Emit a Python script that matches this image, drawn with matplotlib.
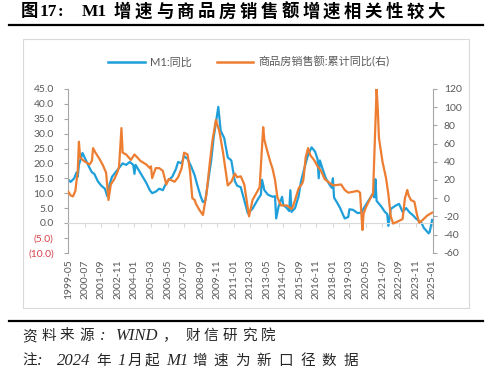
import numpy as np
import pandas as pd
import matplotlib
matplotlib.use('Agg')
import matplotlib.pyplot as plt
from matplotlib.lines import Line2D
from matplotlib.patches import Rectangle

plt.rcParams['font.family'] = ['Lato', 'Noto Sans CJK SC']
plt.rcParams['axes.unicode_minus'] = False

# monthly category axis, 1999-05 .. 2025-01
months = pd.period_range('1999-05', '2025-01', freq='M')
tick_step = 14

# M1 yoy (%), left axis
m1_dates = ['1999-05', '1999-07', '1999-10', '1999-12', '2000-01', '2000-02', '2000-05', '2000-08',
            '2000-11', '2001-01', '2001-03', '2001-06', '2001-09', '2001-12', '2002-02', '2002-04',
            '2002-06', '2002-09', '2002-12', '2003-03', '2003-06', '2003-09', '2003-12', '2004-01',
            '2004-02', '2004-05', '2004-08', '2004-11', '2005-02', '2005-04', '2005-07', '2005-10',
            '2006-01', '2006-04', '2006-06', '2006-09', '2006-12', '2007-02', '2007-05', '2007-07',
            '2007-10', '2008-01', '2008-04', '2008-06', '2008-09', '2008-11', '2009-01', '2009-03',
            '2009-06', '2009-08', '2009-12', '2010-02', '2010-05', '2010-08', '2010-11', '2011-02',
            '2011-04', '2011-07', '2011-10', '2012-01', '2012-05', '2012-09', '2012-12', '2013-01',
            '2013-03', '2013-06', '2013-10', '2013-12', '2014-01', '2014-03', '2014-06', '2014-07',
            '2014-10', '2014-12', '2015-01', '2015-02', '2015-05', '2015-08', '2015-10', '2016-01',
            '2016-04', '2016-07', '2016-10', '2016-12', '2017-01', '2017-02', '2017-04', '2017-07',
            '2017-10', '2017-12', '2018-01', '2018-02', '2018-04', '2018-07', '2018-11', '2019-02',
            '2019-03', '2019-06', '2019-10', '2020-01', '2020-04', '2020-08', '2020-11', '2020-12',
            '2021-01', '2021-02', '2021-06', '2021-09', '2021-11', '2021-12', '2022-02', '2022-06',
            '2022-09', '2022-12', '2023-03', '2023-06', '2023-09', '2023-11', '2024-04', '2024-06',
            '2024-09', '2024-10', '2024-11', '2024-12', '2025-01']
m1_vals = [14.5, 13.8, 15.0, 17.0, 15.5, 19.5, 23.5, 21.0,
           18.5, 17.0, 16.5, 14.0, 12.5, 11.5, 9.0, 13.0,
           15.5, 17.0, 18.5, 20.0, 19.5, 20.5, 19.5, 16.5,
           19.5, 17.5, 15.5, 13.5, 11.0, 10.0, 10.5, 11.5,
           11.0, 13.5, 14.5, 15.5, 18.0, 20.5, 20.0, 22.5,
           21.5, 19.0, 16.0, 13.0, 9.0, 7.0, 7.5, 13.0,
           21.0, 28.5, 39.0, 31.0, 28.5, 22.0, 21.0, 14.0,
           12.5, 12.0, 7.6, 3.2, 4.8, 7.6, 9.5, 14.5,
           11.0, 9.5, 8.8, 9.0, 1.5, 5.5, 8.8, 6.0,
           5.0, 4.0, 11.0, 3.7, 5.0, 9.0, 14.0, 18.6,
           22.9, 25.4, 23.9, 21.4, 15.0, 21.0, 18.5, 15.0,
           13.0, 11.8, 15.0, 8.5, 7.2, 5.1, 1.5, 2.0,
           4.6, 4.4, 3.3, 3.5, 5.5, 8.0, 10.0, 8.6,
           14.7, 7.4, 5.5, 3.7, 3.0, -1.0, 4.7, 5.8,
           6.4, 3.7, 5.0, 3.5, 2.5, 1.6, 0.0, -1.7,
           -3.0, -3.5, -3.0, -1.0, 1.0]

# commodity housing sales, cumulative yoy (%), right axis
sales_dates = ['1999-05', '1999-07', '1999-09', '1999-11', '2000-01', '2000-02', '2000-03', '2000-06',
               '2000-11', '2001-01', '2001-02', '2001-04', '2001-07', '2001-10', '2002-01', '2002-03',
               '2002-05', '2002-08', '2002-11', '2002-12', '2003-02', '2003-03', '2003-06', '2003-10',
               '2004-01', '2004-04', '2004-06', '2004-11', '2005-02', '2005-03', '2005-04', '2005-07',
               '2005-10', '2006-01', '2006-04', '2006-06', '2006-11', '2007-02', '2007-05', '2007-07',
               '2007-10', '2007-12', '2008-02', '2008-04', '2008-05', '2008-08', '2008-11', '2009-02',
               '2009-05', '2009-07', '2009-10', '2010-01', '2010-04', '2010-07', '2010-08', '2010-11',
               '2011-02', '2011-04', '2011-07', '2011-10', '2012-02', '2012-05', '2012-08', '2012-11',
               '2013-02', '2013-03', '2013-05', '2013-08', '2013-10', '2013-12', '2014-02', '2014-05',
               '2014-10', '2015-02', '2015-03', '2015-05', '2015-08', '2015-11', '2015-12', '2016-02',
               '2016-04', '2016-06', '2016-09', '2016-12', '2017-03', '2017-06', '2017-09', '2018-01',
               '2018-08', '2018-11', '2019-02', '2019-10', '2019-12', '2020-02', '2020-03', '2020-05',
               '2020-08', '2020-11', '2021-02', '2021-03', '2021-04', '2021-07', '2021-10', '2021-12',
               '2022-02', '2022-04', '2022-09', '2022-12', '2023-02', '2023-04', '2023-05', '2023-07',
               '2023-10', '2023-12', '2024-02', '2024-05', '2024-09', '2025-01']
sales_vals = [7.0, 3.0, 2.0, 8.0, 30.0, 62.0, 45.0, 41.0,
              37.0, 41.0, 55.0, 50.0, 44.0, 37.0, 28.0, -2.0,
              15.0, 21.0, 30.0, 35.0, 77.0, 50.0, 48.0, 42.0,
              48.0, 44.0, 41.0, 37.0, 33.0, 35.0, 22.0, 33.0,
              33.0, 30.0, 15.0, 21.0, 18.0, 23.0, 33.0, 50.0,
              48.0, 30.0, 0.0, -2.0, -6.0, -13.0, -18.5, 5.0,
              41.0, 63.0, 86.0, 73.0, 50.0, 23.0, 14.0, 18.0,
              27.0, 23.0, 24.0, 15.0, -20.0, -2.0, 5.0, 12.0,
              78.0, 64.0, 54.0, 40.0, 32.0, 20.0, 1.0, -8.0,
              -8.0, -12.0, -9.6, -2.0, 10.8, 16.0, 20.0, 45.0,
              55.0, 47.0, 42.0, 35.0, 30.0, 21.0, 18.0, 14.0,
              15.0, 9.0, 6.0, 8.0, 6.0, -35.0, -17.0, -10.0,
              -2.0, 5.0, 120.0, 98.0, 66.0, 40.0, 22.0, 4.0,
              -20.0, -28.0, -25.0, -23.0, 0.0, 9.0, 3.4, -2.0,
              -4.0, -17.0, -27.0, -24.0, -19.0, -16.0]

left_ticks = [-10, -5, 0, 5, 10, 15, 20, 25, 30, 35, 40, 45]
right_ticks = [-60, -40, -20, 0, 20, 40, 60, 80, 100, 120]


def pos(dates):
    return [(pd.Period(d, 'M') - months[0]).n for d in dates]


W, H = 500, 375
fig = plt.figure(figsize=(5, 3.75), dpi=100)

BLUE = '#1F9FDA'
ORANGE = '#ED7D31'
TXT = '#595959'

ax = fig.add_axes([67.7 / W, 1 - 252.7 / H, 365 / W, 163.7 / H])
ax2 = ax.twinx()

ax.plot(pos(m1_dates), m1_vals, color=BLUE, lw=1.6, solid_joinstyle='round')
ax2.plot(pos(sales_dates), sales_vals, color=ORANGE, lw=1.6, solid_joinstyle='round')

ax.set_xlim(-0.5, len(months) - 0.5)
ax.set_ylim(-10, 45)
ax2.set_ylim(-60, 120)

for a in (ax, ax2):
    a.patch.set_visible(False)
    a.spines['top'].set_visible(False)
ax.spines['right'].set_visible(False)
ax2.spines['left'].set_visible(False)
ax2.spines['bottom'].set_visible(False)
ax.spines['left'].set_color('#A6A6A6')
ax2.spines['right'].set_color('#A6A6A6')
ax.spines['left'].set_linewidth(0.8)
ax2.spines['right'].set_linewidth(0.8)

# category axis line sits at y=0, labels at the bottom
ax.spines['bottom'].set_position(('data', 0))
ax.spines['bottom'].set_color('#D9D9D9')
ax.spines['bottom'].set_linewidth(0.8)
tick_pos = list(range(0, len(months), tick_step))
tick_lab = [months[i].strftime('%Y-%m') for i in tick_pos]
ax.set_xticks(tick_pos)
ax.tick_params(axis='x', length=3, width=0.8, color='#D9D9D9', labelbottom=False)
sec = ax.secondary_xaxis('bottom')
sec.set_xticks(tick_pos, tick_lab)
sec.tick_params(length=0, pad=5, labelsize=7.5, labelcolor=TXT, rotation=90)
sec.spines['bottom'].set_visible(False)

ax.set_yticks(left_ticks)
ax.set_yticklabels([f'{v:.1f}' if v >= 0 else f'({-v:.1f})' for v in left_ticks])
ax.tick_params(axis='y', length=3, width=0.8, color='#A6A6A6', pad=7, labelsize=7.5, labelcolor=TXT)
for v, t in zip(left_ticks, ax.get_yticklabels()):
    if v < 0:
        t.set_color('#D6404A')

ax2.set_yticks(right_ticks)
ax2.tick_params(axis='y', length=3, width=0.8, color='#A6A6A6', pad=5, labelsize=7.5, labelcolor=TXT)

handles = [Line2D([], [], color=BLUE, lw=1.8), Line2D([], [], color=ORANGE, lw=1.8)]
fig.legend(handles, ['M1:同比', '商品房销售额:累计同比(右)'], loc='center',
           bbox_to_anchor=(249 / W, 1 - 62 / H), ncol=2, frameon=False, fontsize=8,
           handlelength=3.3, handletextpad=0.5, columnspacing=2.2, labelcolor=TXT)

# chart frame and report rules
fig.patches.append(Rectangle((23 / W, 1 - 308 / H), 446 / W, 269 / H, transform=fig.transFigure,
                             fill=False, edgecolor='#D9D9D9', lw=0.8))
for yy in (25, 321):
    fig.add_artist(Line2D([9 / W, 483 / W], [1 - yy / H, 1 - yy / H], color='black', lw=1.6))

SERIF = ['Liberation Serif', 'Noto Sans CJK SC']


def put(x, y, s, **kw):
    fig.text(x / W, 1 - y / H, s, ha='left', va='center', **kw)


def put_run(x, y, s, adv, **kw):
    for i, ch in enumerate(s):
        put(x + i * adv, y, ch, **kw)


tkw = dict(family=SERIF, fontsize=12.5, fontweight='bold', color='black')
put(21, 12.5, '图', **tkw)
put(40, 12.5, '17', **tkw)
put(58, 12.5, ':', **tkw)
put(82, 12.5, 'M1', **tkw)
put_run(114, 12.5, '增速与商品房销售额增速相关性较大', 20.9, **tkw)

fkw = dict(family=SERIF, fontsize=10.5, style='italic', color='#262626')
lkw = dict(fkw, fontsize=12)
put_run(22, 336, '资料来源', 19, **fkw)
put(100, 336, ':', **lkw)
put(116, 336, 'WIND', **lkw)
put(163, 336, '，', **fkw)
put_run(185, 336, '财信研究院', 19, **fkw)

put(22, 361, '注', **fkw)
put(37, 361, ':', **lkw)
put(57, 361, '2024', **lkw)
put(96, 361, '年', **fkw)
put(117, 361, '1', **lkw)
put(128, 361, '月', **fkw)
put(145, 361, '起', **fkw)
put(166, 361, 'M1', **lkw)
put_run(192, 361, '增速为新口径数据', 21.6, **fkw)

fig.savefig('out.png', dpi=100)
